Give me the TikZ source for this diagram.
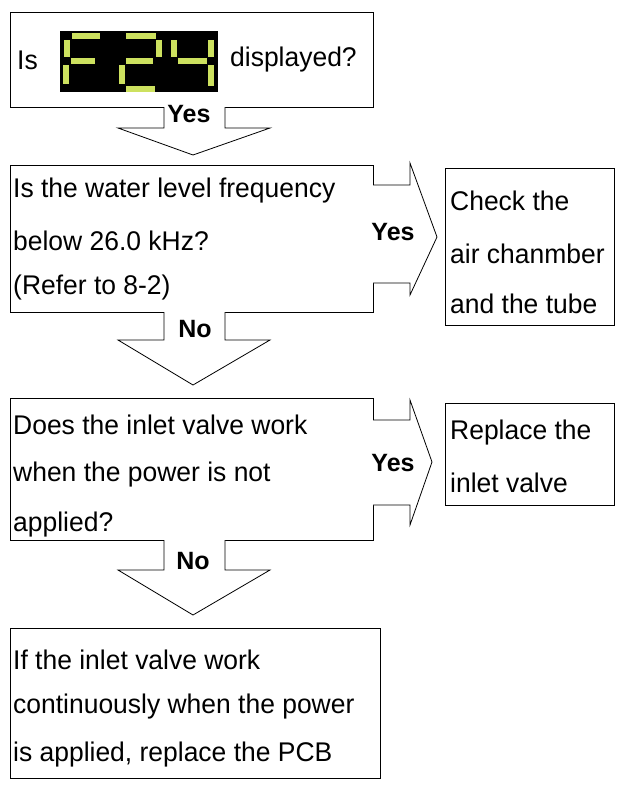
\documentclass[tikz,border=0pt]{standalone}
\usepackage{fontspec}
\setmainfont{Liberation Sans}
\begin{document}
\begin{tikzpicture}[x=1pt,y=-1pt,
  box/.style={draw,line width=1pt},
  arr/.style={draw,line width=0.8pt,fill=white},
  txt/.style={anchor=west,inner sep=0pt,font=\fontsize{27}{27}\selectfont,xscale=0.98},
  lab/.style={inner sep=0pt,font=\bfseries\fontsize{25}{25}\selectfont},
  seg/.style={line width=6pt,draw={rgb,255:red,205;green,225;blue,95},line cap=butt}]
\useasboundingbox (0,0) rectangle (621,785);
% boxes
\draw[box] (10,12) rectangle (373,107);
\draw[box] (10,165) rectangle (373,312);
\node[box,minimum width=169,minimum height=157,anchor=north west] (b3) at (445,168) {};
\draw[box] (10,398) rectangle (373,540);
\node[box,minimum width=169,minimum height=102,anchor=north west] (b5) at (445,403) {};
\draw[box] (10,628) rectangle (380,778);
% down arrows
\fill[white] (164,106) -- (164,128) -- (118,128) -- (193,155) -- (270,128) -- (225,128) -- (225,106) -- cycle;
\draw[arr,fill=none] (164,107) -- (164,128) -- (118,128) -- (193,155) -- (270,128) -- (225,128) -- (225,107);
\fill[white] (164,311) -- (164,340) -- (118,340) -- (193,385) -- (270,340) -- (225,340) -- (225,311) -- cycle;
\draw[arr,fill=none] (164,312) -- (164,340) -- (118,340) -- (193,385) -- (270,340) -- (225,340) -- (225,312);
\fill[white] (164,539) -- (164,570) -- (118,570) -- (193,615) -- (270,570) -- (225,570) -- (225,539) -- cycle;
\draw[arr,fill=none] (164,540) -- (164,570) -- (118,570) -- (193,615) -- (270,570) -- (225,570) -- (225,540);
% right arrows
\fill[white] (372,185) -- (410,185) -- (410,163) -- (437,237) -- (410,295) -- (410,283) -- (372,283) -- cycle;
\draw[arr,fill=none] (373,185) -- (410,185) -- (410,163) -- (437,237) -- (410,295) -- (410,283) -- (373,283);
\fill[white] (372,420) -- (410,420) -- (410,400) -- (432,462) -- (410,525) -- (410,505) -- (372,505) -- cycle;
\draw[arr,fill=none] (373,420) -- (410,420) -- (410,400) -- (432,462) -- (410,525) -- (410,505) -- (373,505);
% display
\fill[black] (60,31) rectangle (218,92);
% F
\draw[seg] (67,40)--(67,57) (66,65)--(66,84) (72,36)--(100,36) (71,61)--(95,61);
% 2
\draw[seg] (126,36)--(156,36) (159,40)--(159,57) (126,61)--(153,61) (122,65)--(122,84) (126,89)--(155,89);
% 4
\draw[seg] (174,40)--(174,57) (178,61)--(207,61) (211,40)--(211,57) (211,65)--(211,86);
% texts
\node[txt] (t1a) at (17,60) {Is};
\node[txt] (t1b) at (230,60) {displayed?};
\node[lab] (y1) at (189,114) {Yes};
\node[txt] (t2a) at (13,191) {Is the water level frequency};
\node[txt] (t2b) at (13,241) {below 26.0 kHz?};
\node[txt] (t2c) at (13,288) {(Refer to 8-2)};
\node[lab] (y2) at (393,232) {Yes};
\node[txt] (t3a) at (450,201) {Check the};
\node[txt] (t3b) at (450,254) {air chanmber};
\node[txt] (t3c) at (450,304) {and the tube};
\node[lab] (n1) at (195,329) {No};
\node[txt] (t4a) at (13,425) {Does the inlet valve work};
\node[txt] (t4b) at (13,475) {when the power is not};
\node[txt] (t4c) at (13,525) {applied?};
\node[lab] (y3) at (393,463) {Yes};
\node[txt] (t5a) at (450,433) {Replace the};
\node[txt] (t5b) at (450,483) {inlet valve};
\node[lab] (n2) at (193,561) {No};
\node[txt] (t6a) at (13,660) {If the inlet valve work};
\node[txt] (t6b) at (13,707) {continuously when the power};
\node[txt] (t6c) at (13,755) {is applied, replace the PCB};
\end{tikzpicture}
\end{document}
